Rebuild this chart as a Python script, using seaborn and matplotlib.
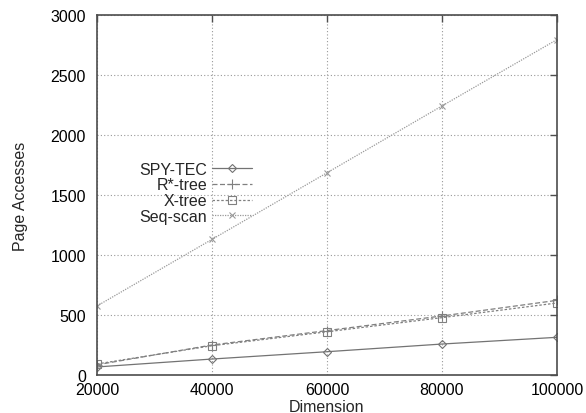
import matplotlib
matplotlib.use("Agg")
import matplotlib.pyplot as plt
import seaborn as sns
import pandas as pd

dimensions = [20000, 40000, 60000, 80000, 100000]
spy_tec = [67, 133, 194, 258, 314]
rstar_tree = [85, 250, 370, 492, 622]
x_tree = [92, 244, 360, 478, 600]
seq_scan = [575, 1130, 1685, 2242, 2795]

series_names = ["SPY-TEC", "R*-tree", "X-tree", "Seq-scan"]
series_values = [spy_tec, rstar_tree, x_tree, seq_scan]

x_ticks = [20000, 40000, 60000, 80000, 100000]
y_ticks = [0, 500, 1000, 1500, 2000, 2500, 3000]

sns.set_theme(style="white")
plt.rcParams["font.family"] = ["Liberation Sans", "DejaVu Sans"]

styles = {
    "SPY-TEC": dict(color="0.45", linestyle="-", marker="D", markersize=4),
    "R*-tree": dict(color="0.5", linestyle=(0, (4, 2)), marker="+", markersize=7),
    "X-tree": dict(color="0.5", linestyle=(0, (2, 1.5)), marker="s", markersize=6),
    "Seq-scan": dict(color="0.6", linestyle=(0, (1, 1)), marker="x", markersize=5),
}

fig = plt.figure(figsize=(5.86, 4.14), dpi=100)
ax = fig.add_axes([0.1655, 0.0918, 0.785, 0.8696])

for name, vals in zip(series_names, series_values):
    st = styles[name]
    df = pd.DataFrame({"Dimension": dimensions, "Page Accesses": vals})
    sns.lineplot(data=df, x="Dimension", y="Page Accesses", ax=ax, label=name,
                 color=st["color"], linestyle=st["linestyle"], marker=st["marker"],
                 markersize=st["markersize"], markerfacecolor="none",
                 markeredgecolor=st["color"], markeredgewidth=0.8, linewidth=0.9)

ax.set_xlim(20000, 100000)
ax.set_ylim(0, 3000)
ax.set_xticks(x_ticks)
ax.set_yticks(y_ticks)
ax.set_xticklabels([str(t) for t in x_ticks], fontsize=11.5)
ax.set_yticklabels([str(t) for t in y_ticks], fontsize=11.5)
ax.set_xlabel("Dimension", fontsize=11.5, labelpad=1.5)
ax.set_ylabel("Page Accesses", fontsize=11.5, labelpad=16)

ax.grid(True, linestyle=(0, (1, 2)), color="0.6", linewidth=0.8)
ax.tick_params(direction="in", length=5, width=1, color="0.3", top=True, right=True,
               colors="black")
ax.tick_params(axis="both", which="both", color="0.3")
ax.tick_params(axis="y", pad=8)
ax.tick_params(axis="x", pad=5)
for sp in ax.spines.values():
    sp.set_color("0.3")
    sp.set_linewidth(1.2)

# labels on the left, line samples on the right (right-aligned column)
ax.legend(loc="upper right", bbox_to_anchor=(0.354, 0.615), frameon=False,
          markerfirst=False, fontsize=11.5, handlelength=2.5,
          labelspacing=0.05, borderpad=0, handletextpad=0.3)

fig.savefig("out.png", dpi=100)
